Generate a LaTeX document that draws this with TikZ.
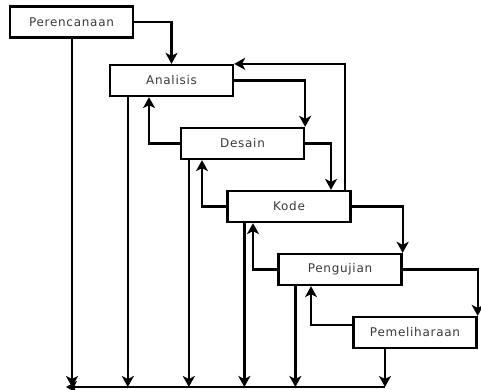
\documentclass[tikz,border=0pt]{standalone}
\usepackage{fontspec}
\newfontfamily\boxfont[LetterSpace=6]{DejaVu Sans}
\usetikzlibrary{arrows.meta}
\definecolor{txtgray}{HTML}{3A3A3A}
\tikzset{
  box/.style={draw=black, line width=2.3pt, fill=white, minimum width=123pt, minimum height=31pt,
    inner sep=0pt, font=\boxfont\fontsize{12}{14}\selectfont, text=txtgray},
  arr/.style={line width=2.3pt, -{Stealth[length=11pt,width=12pt,inset=3pt]}}
}
\begin{document}
\begin{tikzpicture}[x=1pt,y=-1pt]
\fill[white] (0,0) rectangle (481,390);
\useasboundingbox (0,0) rectangle (481,390);

\node[box] (P) at (71.5,22)  {Perencanaan};
\node[box] (A) at (171.5,80.5) {Analisis};
\node[box] (D) at (242.5,143.5) {Desain};
\node[box] (K) at (289,206.5) {Kode};
\node[box] (U) at (340,269.5) {Pengujian};
\node[box] (M) at (415,332.5) {Pemeliharaan};

\coordinate (base) at (385,387);
\coordinate (baseend) at (66,387);

% forward flow
\draw[arr] (P.east) -| (A.north);
\draw[arr] (A.east) -| (D.north east);
\draw[arr] (D.east) -| ([xshift=42pt]K.north);
\draw[arr] (K.east) -| (U.north east);
\draw[arr] (U.east) -| (M.north east);

% feedback
\draw[arr] (D.west) -| ([xshift=-22.5pt]A.south);
\draw[arr] (K.west) -| ([xshift=-40.5pt]D.south);
\draw[arr] (U.west) -| ([xshift=-36pt]K.south);
\draw[arr] ([yshift=7.5pt]M.west) -| ([xshift=-29pt]U.south);
\draw[arr] ([xshift=-7pt]K.north east) |- (A.north east);

% down to base line
\draw[arr] ([xshift=0.5pt]P.south) -- ([xshift=0.5pt]P.south |- base);
\draw[arr] ([xshift=19pt]A.south west) -- ([xshift=19pt]A.south west |- base);
\draw[arr] ([xshift=9pt]D.south west) -- ([xshift=9pt]D.south west |- base);
\draw[arr] ([xshift=18pt]K.south west) -- ([xshift=18pt]K.south west |- base);
\draw[arr] ([xshift=18pt]U.south west) -- ([xshift=18pt]U.south west |- base);
\draw[arr] ([xshift=-30pt]M.south) -- (base);
\draw[arr] (base) -- (baseend);
\end{tikzpicture}
\end{document}
